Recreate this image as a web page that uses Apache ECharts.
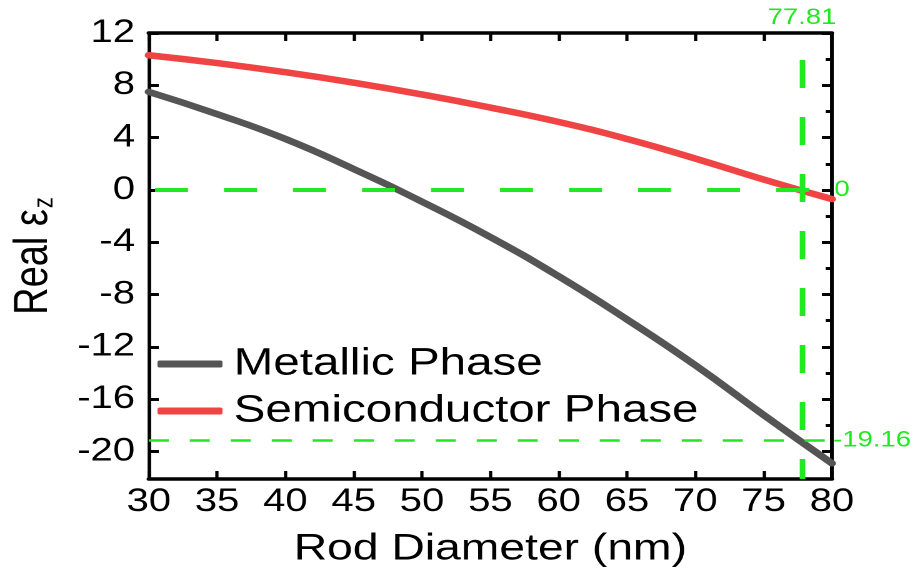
<!DOCTYPE html>
<html>
<head>
<meta charset="utf-8">
<script src="https://cdn.jsdelivr.net/npm/echarts@6/dist/echarts.min.js"></script>
<style>
html,body{margin:0;padding:0;background:#fff;overflow:hidden;width:914px;height:578px;}
#chart{width:731px;height:578px;transform:scaleX(1.25);transform-origin:0 0;}
</style>
</head>
<body>
<div id="chart"></div>
<script>
// ---- data ----
const diameter = [30, 35, 40, 45, 50, 55, 60, 65, 70, 75, 80];
const metallic = [7.5, 5.8, 3.9, 1.6, -0.9, -3.6, -6.6, -9.9, -13.4, -17.2, -20.9];
const semiconductor = [10.3, 9.7, 9.0, 8.2, 7.3, 6.3, 5.2, 3.9, 2.4, 0.8, -0.7];
const xTicks = [30, 35, 40, 45, 50, 55, 60, 65, 70, 75, 80];
const yTicks = [-20, -16, -12, -8, -4, 0, 4, 8, 12];
const yMinorTicks = [-18, -14, -10, -6, -2, 2, 6, 10];
const refX = 77.81;
const refYZero = 0;
const refYLow = -19.16;
const seriesNames = ['Metallic Phase', 'Semiconductor Phase'];

const FONT = 'Liberation Sans, Arial, sans-serif';
const GREEN = '#22e822';
const chart = echarts.init(document.getElementById('chart'), null, {renderer: 'canvas', devicePixelRatio: 2});

const xBase = {
  type: 'value', min: 30, max: 80, interval: 5,
  splitLine: {show: false},
  axisLine: {show: true, onZero: false, lineStyle: {color: '#000', width: 3.5}},
  axisTick: {show: true, inside: true, length: 8, lineStyle: {color: '#000', width: 2.6}}
};
const yBase = {
  type: 'value', min: -22.1, max: 12,
  splitLine: {show: false},
  axisLine: {show: true, onZero: false, lineStyle: {color: '#000', width: 2.8}},
};

chart.setOption({
  animation: false,
  backgroundColor: '#fff',
  grid: {left: 115, right: 65.5, top: 33, bottom: 99, containLabel: false},
  legend: {
    data: seriesNames,
    orient: 'vertical', left: 121, top: 340,
    icon: 'roundRect', itemWidth: 52, itemHeight: 7, itemGap: 9,
    textStyle: {fontFamily: FONT, fontSize: 38, color: '#000', lineHeight: 38, padding: [0, 0, 0, 4]}
  },
  xAxis: [
    Object.assign({}, xBase, {
      position: 'bottom',
      axisLabel: {show: true, fontFamily: FONT, fontSize: 32, color: '#000', margin: 7,
        customValues: xTicks},
      name: 'Rod Diameter (nm)', nameLocation: 'middle', nameGap: 52,
      nameTextStyle: {fontFamily: FONT, fontSize: 37, color: '#000'}
    }),
    Object.assign({}, xBase, {position: 'top', axisLabel: {show: false}})
  ],
  yAxis: [
    Object.assign({}, yBase, {
      position: 'left',
      axisTick: {show: true, inside: true, length: 8, customValues: yTicks, lineStyle: {color: '#000', width: 3}},
      axisLabel: {show: true, fontFamily: FONT, fontSize: 32, color: '#000', margin: 11, customValues: yTicks},
      name: 'Real ε{z|z}', nameLocation: 'middle', nameGap: 72, nameRotate: 90,
      nameTextStyle: {fontFamily: FONT, fontSize: 38, color: '#000',
        rich: {z: {fontFamily: FONT, fontSize: 22, color: '#000', padding: [18, 0, 0, 1]}}}
    }),
    Object.assign({}, yBase, {
      position: 'right',
      axisTick: {show: true, inside: true, length: 8, customValues: yTicks, lineStyle: {color: '#000', width: 3}},
      axisLabel: {show: false}
    }),
    Object.assign({}, yBase, {
      position: 'right',
      axisTick: {show: true, inside: true, length: 5, customValues: yMinorTicks, lineStyle: {color: '#000', width: 3}},
      axisLabel: {show: false}
    })
  ],
  series: [
    {
      name: 'ref', type: 'line', data: [], z: 1, silent: true,
      markLine: {
        silent: true, symbol: 'none', animation: false,
        data: [
          {xAxis: refX, lineStyle: {color: GREEN, width: 4.4, type: [28, 29], dashOffset: 8},
            label: {show: true, position: 'end', formatter: String(refX), color: GREEN, fontFamily: FONT, fontSize: 22, distance: 4}},
          {yAxis: refYZero, lineStyle: {color: GREEN, width: 4, type: [26.4, 28.8], dashOffset: -5},
            label: {show: true, position: 'end', formatter: String(refYZero), color: GREEN, fontFamily: FONT, fontSize: 22, distance: 2}},
          {yAxis: refYLow, lineStyle: {color: GREEN, width: 2.5, type: [16, 16.8]},
            label: {show: true, position: 'end', formatter: String(refYLow), color: GREEN, fontFamily: FONT, fontSize: 22, distance: 1}}
        ]
      }
    },
    {
      name: seriesNames[0], type: 'line', smooth: true, showSymbol: false, z: 3,
      data: diameter.map((d, i) => [d, metallic[i]]),
      lineStyle: {color: '#555555', width: 6.5, cap: 'round'}, itemStyle: {color: '#555555'}
    },
    {
      name: seriesNames[1], type: 'line', smooth: true, showSymbol: false, z: 3,
      data: diameter.map((d, i) => [d, semiconductor[i]]),
      lineStyle: {color: '#f04444', width: 6.5, cap: 'round'}, itemStyle: {color: '#f04444'}
    }
  ]
});
</script>
</body>
</html>
